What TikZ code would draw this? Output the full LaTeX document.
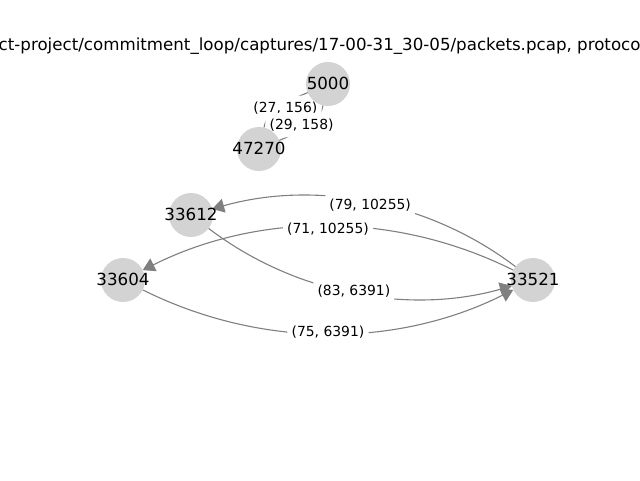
\documentclass[tikz,border=0pt]{standalone}
\usepackage{fontspec}
\setmainfont{DejaVu Sans}
\usetikzlibrary{arrows.meta,calc}
\pgfdeclarelayer{back}
\pgfdeclarelayer{bg}
\pgfsetlayers{back,bg,main}
\definecolor{nodegrey}{HTML}{D3D3D3}
\definecolor{edgegrey}{HTML}{808080}
\begin{document}
\begin{tikzpicture}[x=1pt,y=1pt,
  vertex/.style={circle,fill=nodegrey,minimum size=44pt,inner sep=0pt,outer sep=0pt},
  vlabel/.style={font=\fontsize{16.67}{20}\selectfont,inner sep=0pt,text=black,yshift=0.8pt},
  elabel/.style={font=\fontsize{13.9}{16}\selectfont,fill=white,rounded corners=4pt,inner sep=4.2pt,text height=12.9pt,text depth=3.3pt,text=black},
  titlestyle/.style={font=\fontsize{16.67}{20}\selectfont,inner sep=0pt,text=black},
  conn/.style={draw=edgegrey,line width=1.1pt},
  arr/.style={-{Triangle[length=12pt,width=14pt]}}]
\useasboundingbox (0,0) rectangle (640,480);
\begin{pgfonlayer}{back}
\fill[white] (0,0) rectangle (640,480);
\end{pgfonlayer}
% title
\node[titlestyle,anchor=base west] (title) at (-1.5,429.3) {ct-project/commitment\_loop/captures/17-00-31\_30-05/packets.pcap, protocol};
% nodes
\node[vertex] (n5000)  at (328,396) {};
\node[vertex] (n47270) at (259,331) {};
\node[vertex] (n33612) at (191,265) {};
\node[vertex] (n33604) at (123,200) {};
\node[vertex] (n33521) at (533,200) {};
\node[vlabel] (t5000)  at (n5000)  {5000};
\node[vlabel] (t47270) at (n47270) {47270};
\node[vlabel] (t33612) at (n33612) {33612};
\node[vlabel] (t33604) at (n33604) {33604};
\node[vlabel] (t33521) at (n33521) {33521};
\begin{pgfonlayer}{bg}
% short pair, heads not visible
\draw[conn] (n5000) to[out=203,in=77] (n47270);
\draw[conn] (n47270) to[out=23,in=257] (n5000);
% long edges
\draw[conn,arr] (n33521) .. controls ($(n33521)!0.3727!-26.57:(n33612)$) and ($(n33612)!0.3727!26.57:(n33521)$) .. (n33612);
\draw[conn,arr] (n33521) .. controls ($(n33521)!0.3727!-26.57:(n33604)$) and ($(n33604)!0.3727!26.57:(n33521)$) .. (n33604);
\draw[conn,arr] (n33612) .. controls ($(n33612)!0.3727!-26.57:(n33521)$) and ($(n33521)!0.3727!26.57:(n33612)$) .. (n33521);
\draw[conn,arr] (n33604) .. controls ($(n33604)!0.3727!-26.57:(n33521)$) and ($(n33521)!0.3727!26.57:(n33604)$) .. (n33521);
% edge labels
\node[elabel] (l1) at ($(n5000)!0.5154!-14.04:(n47270)$) {(27, 156)};
\node[elabel] (l2) at ($(n47270)!0.5154!-14.04:(n5000)$) {(29, 158)};
\node[elabel] (l3) at ($(n33521)!0.5154!-14.04:(n33612)$) {(79, 10255)};
\node[elabel] (l4) at ($(n33521)!0.5154!-14.04:(n33604)$) {(71, 10255)};
\node[elabel] (l5) at ($(n33612)!0.5154!-14.04:(n33521)$) {(83, 6391)};
\node[elabel] (l6) at ($(n33604)!0.5154!-14.04:(n33521)$) {(75, 6391)};
\end{pgfonlayer}
\end{tikzpicture}
\end{document}
